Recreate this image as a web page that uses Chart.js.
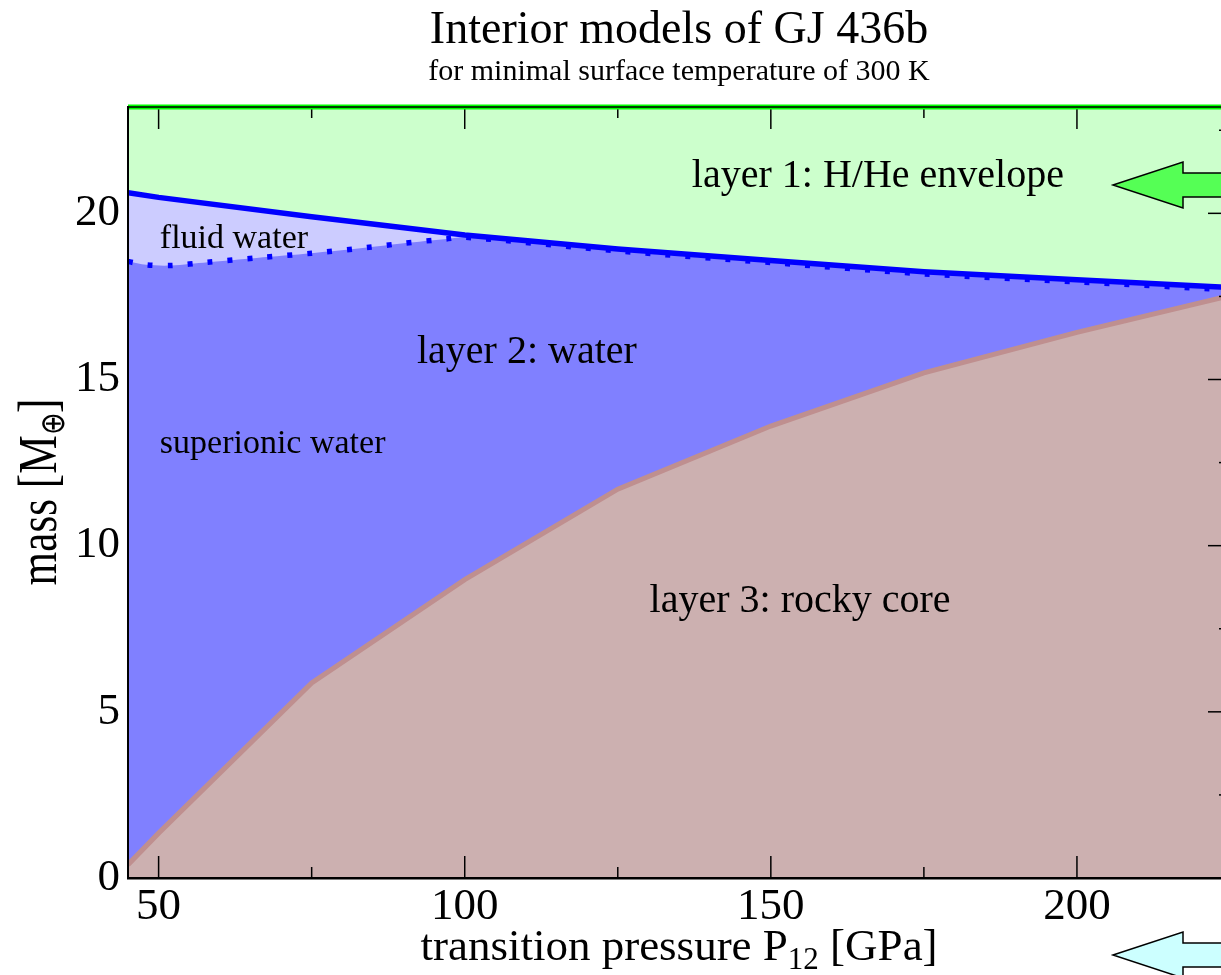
<!DOCTYPE html>
<html>
<head>
<meta charset="utf-8">
<script src="https://cdn.jsdelivr.net/npm/chart.js@4.4.1/dist/chart.umd.min.js"></script>
<style>
  html, body { margin: 0; padding: 0; overflow: hidden; background: #fff; }
  #wrap { width: 1240px; height: 975px; }
</style>
</head>
<body>
<div id="wrap"><canvas id="chartGJ436b"></canvas></div>
<script>
// transition pressure [GPa] vs mass [M_earth]
const envelopeP = [45, 50, 75, 100, 125, 150, 175, 200, 225];
const envelopeM = [20.62, 20.48, 19.9, 19.35, 18.93, 18.58, 18.24, 18.0, 17.77];

const fluidP = [45, 48, 52, 58, 66, 75, 84, 90, 97, 100, 125, 150, 175, 200, 225];
const fluidM = [18.55, 18.45, 18.43, 18.53, 18.66, 18.8, 18.97, 19.1, 19.23, 19.28, 18.87, 18.52, 18.18, 17.94, 17.7];

const coreP = [45, 50, 75, 100, 125, 150, 175, 200, 225];
const coreM = [0.4, 1.35, 5.87, 8.98, 11.7, 13.6, 15.2, 16.42, 17.52];

const xTicks = [50, 75, 100, 125, 150, 175, 200, 225];
const xLabels = ["50", "", "100", "", "150", "", "200", ""];
const yTicks = [0, 2.5, 5, 7.5, 10, 12.5, 15, 17.5, 20, 22.5];
const yLabels = ["0", "", "5", "", "10", "", "15", "", "20", ""];

const SERIF = "'Liberation Serif', 'Times New Roman', serif";

const toXY = (ps, ms) => ps.map((p, i) => ({ x: p, y: ms[i] }));

// text labels placed in data coordinates
const notes = [
    { text: "layer 1: H/He envelope", p: 137.1, m: 20.8, size: 40 },
    { text: "fluid water", p: 50.2, m: 18.95, size: 34 },
    { text: "layer 2: water", p: 92.2, m: 15.5, size: 40 },
    { text: "superionic water", p: 50.2, m: 12.8, size: 34 },
    { text: "layer 3: rocky core", p: 130.2, m: 8.0, size: 40 }
];

function seg(ctx, x1, y1, x2, y2) {
    ctx.beginPath();
    ctx.moveTo(x1, y1);
    ctx.lineTo(x2, y2);
    ctx.stroke();
}

function arrow(ctx, tipX, cy, color) {
    ctx.beginPath();
    ctx.moveTo(tipX, cy);
    ctx.lineTo(tipX + 70, cy - 23);
    ctx.lineTo(tipX + 70, cy - 12);
    ctx.lineTo(tipX + 220, cy - 12);
    ctx.lineTo(tipX + 220, cy + 12);
    ctx.lineTo(tipX + 70, cy + 12);
    ctx.lineTo(tipX + 70, cy + 23);
    ctx.closePath();
    ctx.fillStyle = color;
    ctx.fill();
    ctx.strokeStyle = "#000";
    ctx.lineWidth = 1.5;
    ctx.stroke();
}

const framePlugin = {
    id: "frame",
    beforeDatasetsDraw(chart) {
        const { ctx, chartArea: a } = chart;
        ctx.save();
        ctx.fillStyle = "#8080ff";   // superionic water = background of the layer stack
        ctx.fillRect(a.left, a.top, a.right - a.left, a.bottom - a.top);
        ctx.restore();
    },
    afterDatasetsDraw(chart) {
        const { ctx, chartArea: a, scales } = chart;
        const x = scales.x, y = scales.y;
        ctx.save();

        // annotations
        ctx.fillStyle = "#000";
        ctx.textBaseline = "alphabetic";
        ctx.textAlign = "left";
        notes.forEach(n => {
            ctx.font = n.size + "px " + SERIF;
            ctx.fillText(n.text, x.getPixelForValue(n.p), y.getPixelForValue(n.m));
        });

        // ticks pointing inward (top, bottom, right)
        ctx.strokeStyle = "#000";
        ctx.lineWidth = 1.5;
        x.ticks.forEach((t, i) => {
            const px = x.getPixelForValue(t.value);
            const len = xLabels[i] ? 22 : 11;
            seg(ctx, px, a.bottom, px, a.bottom - len);
            seg(ctx, px, a.top, px, a.top + len);
        });
        y.ticks.forEach((t, i) => {
            const py = y.getPixelForValue(t.value);
            const len = yLabels[i] ? 22 : 11;
            seg(ctx, a.right, py, a.right - len, py);
        });

        // top and right border
        ctx.strokeStyle = "#00ff00";
        ctx.lineWidth = 5;
        seg(ctx, a.left, a.top, a.right, a.top);
        ctx.strokeStyle = "#000";
        ctx.lineWidth = 1.5;
        seg(ctx, a.left, a.top, a.right, a.top);
        seg(ctx, a.right, a.top, a.right, a.bottom);
        ctx.restore();
    },
    afterDraw(chart) {
        const { ctx, chartArea: a } = chart;
        ctx.save();

        // arrows on the right
        arrow(ctx, a.right - 117, 185, "#55ff55");
        arrow(ctx, a.right - 117, 955, "#ccffff");

        ctx.fillStyle = "#000";
        ctx.textBaseline = "alphabetic";
        ctx.textAlign = "left";

        // x title with subscript
        const big = "45px " + SERIF, small = "31px " + SERIF;
        const p1 = "transition pressure P", sub = "12", p2 = " [GPa]";
        ctx.font = big;
        const w1 = ctx.measureText(p1).width, w3 = ctx.measureText(p2).width;
        ctx.font = small;
        const w2 = ctx.measureText(sub).width;
        let sx = (a.left + a.right) / 2 - (w1 + w2 + w3) / 2;
        const by = 960;
        ctx.font = big;
        ctx.fillText(p1, sx, by);
        ctx.font = small;
        ctx.fillText(sub, sx + w1, by + 9);
        ctx.font = big;
        ctx.fillText(p2, sx + w1 + w2, by);

        // y title, rotated, with subscript
        const q1 = "mass [M", qs = "\u2295", q2 = "]";
        const yb = "54px " + SERIF, ys = "34px " + SERIF;
        ctx.translate(56, 492);
        ctx.rotate(-Math.PI / 2);
        ctx.scale(0.8, 1);
        ctx.font = yb;
        const v1 = ctx.measureText(q1).width, v3 = ctx.measureText(q2).width;
        ctx.font = ys;
        const v2 = ctx.measureText(qs).width;
        const s0 = -(v1 + v2 + v3) / 2;
        ctx.font = yb;
        ctx.fillText(q1, s0, 0);
        ctx.font = ys;
        ctx.fillText(qs, s0 + v1, 8);
        ctx.font = yb;
        ctx.fillText(q2, s0 + v1 + v2, 0);
        ctx.restore();
    }
};

const ctxEl = document.getElementById("chartGJ436b");

new Chart(ctxEl, {
    type: "line",
    data: {
        datasets: [
            {
                label: "H/He envelope",
                data: toXY(envelopeP, envelopeM),
                borderColor: "#0000ff",
                borderWidth: 5.5,
                backgroundColor: "#ccffcc",
                fill: "end",
                pointRadius: 0,
                tension: 0
            },
            {
                label: "fluid water",
                data: toXY(fluidP, fluidM),
                borderColor: "#0000ff",
                borderWidth: 5.5,
                borderDash: [5, 15],
                backgroundColor: "#ccccff",
                fill: { target: 0 },
                pointRadius: 0,
                tension: 0.3
            },
            {
                label: "rocky core",
                data: toXY(coreP, coreM),
                borderColor: "#bf8f8f",
                borderWidth: 5,
                backgroundColor: "#ccb0b0",
                fill: "start",
                pointRadius: 0,
                tension: 0
            }
        ]
    },
    options: {
        responsive: true,
        maintainAspectRatio: false,
        animation: false,
        layout: { padding: { left: 0, right: 10, top: 0, bottom: 0 } },
        plugins: {
            legend: { display: false },
            tooltip: { enabled: false },
            title: {
                display: true,
                text: "Interior models of GJ 436b",
                color: "#000",
                fullSize: false,
                font: { family: SERIF, size: 46, weight: "normal", lineHeight: 1 },
                padding: { top: 8, bottom: 3 }
            },
            subtitle: {
                display: true,
                text: "for minimal surface temperature of 300 K",
                color: "#000",
                fullSize: false,
                font: { family: SERIF, size: 30, weight: "normal", lineHeight: 1 },
                padding: { top: 0, bottom: 20 }
            }
        },
        scales: {
            x: {
                type: "linear",
                min: 45,
                max: 225,
                afterBuildTicks: s => { s.ticks = xTicks.map(v => ({ value: v })); },
                afterFit: s => { s.height = 97; },
                grid: { display: false, drawTicks: false },
                border: { display: true, color: "#000", width: 2.5, z: 1 },
                ticks: {
                    autoSkip: false,
                    maxRotation: 0,
                    padding: 2,
                    color: "#000",
                    font: { family: SERIF, size: 45 },
                    callback: (v, i) => xLabels[i]
                }
            },
            y: {
                type: "linear",
                min: 0,
                max: 23.2,
                afterBuildTicks: s => { s.ticks = yTicks.map(v => ({ value: v })); },
                afterFit: s => { s.width = 128; },
                grid: { display: false, drawTicks: false },
                border: { display: true, color: "#000", width: 2, z: 1 },
                ticks: {
                    autoSkip: false,
                    padding: 8,
                    color: "#000",
                    font: { family: SERIF, size: 45 },
                    callback: (v, i) => yLabels[i]
                }
            }
        }
    },
    plugins: [framePlugin]
});
</script>
</body>
</html>
